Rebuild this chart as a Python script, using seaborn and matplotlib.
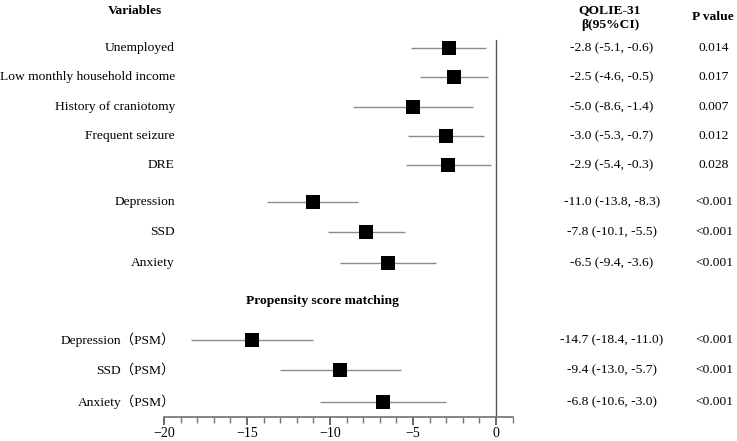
import seaborn as sns
import matplotlib.pyplot as plt
import pandas as pd

sns.set_theme(style="white")
plt.rcParams['font.family'] = ['Liberation Serif', 'Noto Sans CJK SC']
plt.rcParams['text.color'] = 'black'
plt.rcParams['xtick.color'] = 'black'

# data
variables = ["Unemployed", "Low monthly household income", "History of craniotomy",
             "Frequent seizure", "DRE", "Depression", "SSD", "Anxiety",
             "Depression\uff08PSM\uff09", "SSD\uff08PSM\uff09", "Anxiety\uff08PSM\uff09"]
beta = [-2.8, -2.5, -5.0, -3.0, -2.9, -11.0, -7.8, -6.5, -14.7, -9.4, -6.8]
lower = [-5.1, -4.6, -8.6, -5.3, -5.4, -13.8, -10.1, -9.4, -18.4, -13.0, -10.6]
upper = [-0.6, -0.5, -1.4, -0.7, -0.3, -8.3, -5.5, -3.6, -11.0, -5.7, -3.0]
pvals = ["0.014", "0.017", "0.007", "0.012", "0.028", "<0.001", "<0.001", "<0.001",
         "<0.001", "<0.001", "<0.001"]

# row positions (layout, in pixels from top of figure)
rows = [48, 77, 107, 136, 165, 202, 232, 263, 340, 370, 402]
psm_header_row = 301

df = pd.DataFrame({"var": variables, "beta": beta, "lo": lower, "hi": upper,
                   "p": pvals, "row": rows})

W, H = 737, 441
fig = plt.figure(figsize=(W / 100, H / 100), dpi=100)
ax_top_px, ax_bot_px = 30, 417
ax = fig.add_axes([164 / W, 1 - ax_bot_px / H, (512.5 - 164) / W, (ax_bot_px - ax_top_px) / H])
ax.set_xlim(-20, 1)
ax.set_ylim(ax_bot_px, ax_top_px)

# CIs and squares
ax.hlines(df["row"], df["lo"], df["hi"], color="#8c8c8c", lw=1, zorder=1)
sns.scatterplot(data=df, x="beta", y="row", marker="s", s=110, color="black",
                edgecolor="black", linewidth=0, ax=ax, zorder=3, legend=False)
ax.axvline(0, ymin=0, ymax=(ax_bot_px - 40) / (ax_bot_px - ax_top_px), color="#555555", lw=1)

# axis styling
for s in ["top", "right", "left"]:
    ax.spines[s].set_visible(False)
ax.spines["bottom"].set_color("#777777")
ax.set_xticks([-20, -15, -10, -5, 0])
ax.set_xticklabels(["\u221220", "\u221215", "\u221210", "\u22125", "0"])
ax.set_xticks(range(-19, 2), minor=True)
ax.tick_params(axis="x", which="major", direction="out", length=6, color="#555555",
               labelcolor="black", bottom=True, labelsize=10, pad=1)
ax.tick_params(axis="x", which="minor", direction="out", length=4, color="#777777", bottom=True)
ax.set_yticks([])
ax.set_xlabel("")
ax.set_ylabel("")

fs = 9.7
def fy(px):
    return 1 - px / H

# column headers
fig.text(135 / W, fy(11), "Variables", ha="center", va="center", fontsize=fs, fontweight="bold")
fig.text(610 / W, fy(10), "QOLIE-31", ha="center", va="center", fontsize=fs, fontweight="bold")
fig.text(610 / W, fy(25), "\u03b2(95%CI)", ha="center", va="center", fontsize=fs, fontweight="bold")
fig.text(713 / W, fy(17), "P value", ha="center", va="center", fontsize=fs, fontweight="bold")
fig.text(246 / W, fy(psm_header_row), "Propensity score matching", ha="left", va="center",
         fontsize=fs, fontweight="bold")

for _, r in df.iterrows():
    fig.text(175 / W, fy(r["row"]), r["var"], ha="right", va="center", fontsize=fs)
    fig.text(612 / W, fy(r["row"]), f"{r['beta']:.1f} ({r['lo']:.1f}, {r['hi']:.1f})",
             ha="center", va="center", fontsize=fs)
    fig.text(714 / W, fy(r["row"]), r["p"], ha="center", va="center", fontsize=fs)

fig.savefig("out.png", dpi=100, facecolor="white")
